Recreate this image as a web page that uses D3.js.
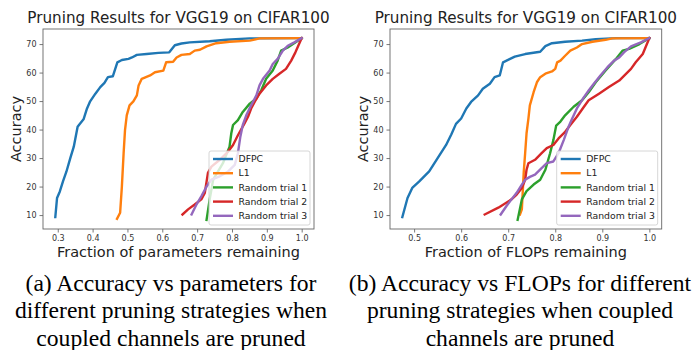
<!DOCTYPE html>
<html>
<head>
<meta charset="utf-8">
<script src="https://cdn.jsdelivr.net/npm/d3@7"></script>
<style>
  body { margin: 0; background: white; }
  svg { display: block; }
</style>
</head>
<body>
<div id="fig"></div>
<script>
"use strict"

const seriesNames = ["DFPC", "L1", "Random trial 1", "Random trial 2", "Random trial 3"]
const seriesColors = ["#1f77b4", "#ff7f0e", "#2ca02c", "#d62728", "#9467bd"]

// accuracy vs fraction of parameters remaining
const paramDFPC = [[0.293,9.3],[0.298,16],[0.306,18.3],[0.315,21.8],[0.325,25.3],[0.336,30],[0.346,34],[0.357,41],[0.362,41.8],[0.374,43.6],[0.384,47.4],[0.393,49.9],[0.408,52.6],[0.422,54.9],[0.434,56.4],[0.444,58.4],[0.458,58.7],[0.471,63.6],[0.484,64.4],[0.503,64.8],[0.513,65.3],[0.527,66.2],[0.555,66.5],[0.589,66.9],[0.620,67.1],[0.636,69.6],[0.655,70.2],[0.679,70.6],[0.736,71.0],[0.784,71.5],[0.851,72],[1.0,72.1]]
const paramL1 = [[0.470,8.7],[0.479,10.8],[0.484,20],[0.489,31.7],[0.493,39.8],[0.498,45],[0.506,48.5],[0.517,49.9],[0.527,52],[0.532,55.5],[0.541,57.8],[0.553,58.4],[0.565,59],[0.579,60.1],[0.603,60.7],[0.611,63.6],[0.631,63.8],[0.641,65.3],[0.655,66.2],[0.679,66.5],[0.693,67.7],[0.708,68],[0.727,69.2],[0.755,70.3],[0.793,70.8],[0.851,71.2],[0.879,72],[1.0,72.1]]
const paramRand1 = [[0.727,8.3],[0.736,15.5],[0.746,22.4],[0.774,28.2],[0.793,34],[0.798,38.7],[0.803,41.6],[0.817,43.3],[0.831,46.2],[0.851,49.1],[0.870,50.9],[0.884,53.8],[0.898,57.8],[0.917,60.7],[0.931,64.2],[0.941,67.7],[0.960,68.8],[1.0,72.1]]
const paramRand2 = [[0.658,10.2],[0.674,12],[0.693,13.7],[0.712,15.5],[0.722,17.8],[0.731,24.8],[0.741,27],[0.765,29.4],[0.789,32.3],[0.803,34.6],[0.817,38],[0.836,42.2],[0.846,44.5],[0.855,47.4],[0.865,49.7],[0.879,52.6],[0.898,55.5],[0.917,57.8],[0.936,59.6],[0.955,61.3],[0.970,64.2],[0.982,67.1],[1.0,72.1]]
const paramRand3 = [[0.684,10.2],[0.698,13.7],[0.712,16.6],[0.727,20],[0.741,22.4],[0.765,23.6],[0.789,25.3],[0.808,27.6],[0.817,31.7],[0.824,37.5],[0.831,41.6],[0.841,45],[0.855,48.5],[0.870,52],[0.879,55.5],[0.889,57.8],[0.908,60.7],[0.917,63],[0.931,64.8],[0.946,67.7],[0.960,69.4],[0.979,70.6],[1.0,72.1]]

// accuracy vs fraction of FLOPs remaining
const flopDFPC = [[0.475,9.3],[0.486,16],[0.496,19.5],[0.511,21.8],[0.532,25.3],[0.550,30],[0.568,34.6],[0.579,38.3],[0.589,42],[0.600,43.9],[0.611,47.4],[0.621,49.7],[0.636,52],[0.646,54.3],[0.661,56.1],[0.671,58.4],[0.682,59],[0.689,63.6],[0.704,64.8],[0.714,65.6],[0.736,66.5],[0.768,67.3],[0.779,69.3],[0.793,70.3],[0.821,70.8],[0.857,71.2],[0.886,71.7],[0.929,72.1],[1.0,72.1]]
const flopL1 = [[0.725,10.2],[0.729,12],[0.733,25],[0.736,31.7],[0.739,38.7],[0.743,43.9],[0.746,48.5],[0.754,53.1],[0.761,56.6],[0.768,58.4],[0.779,59.6],[0.793,60.4],[0.800,61.3],[0.804,63.6],[0.811,64.2],[0.821,65.9],[0.832,67.7],[0.846,68.8],[0.857,70],[0.879,70.8],[0.907,71.5],[0.921,72],[1.0,72.1]]
const flopRand1 = [[0.720,8.3],[0.729,15.5],[0.739,18.4],[0.754,20.7],[0.768,22.4],[0.779,25.9],[0.789,31.7],[0.796,36.3],[0.802,41.4],[0.811,42.8],[0.821,45],[0.839,48],[0.857,50.3],[0.871,53.1],[0.886,56.6],[0.907,60.7],[0.929,64.8],[0.943,67.7],[0.957,68.3],[0.979,70],[1.0,72.1]]
const flopRand2 = [[0.650,10.2],[0.679,12.6],[0.707,15.5],[0.718,17.2],[0.729,19.5],[0.736,22.4],[0.739,25.9],[0.743,28.2],[0.757,29.4],[0.771,31.7],[0.782,33.5],[0.796,34.6],[0.807,36.9],[0.820,39],[0.832,41.6],[0.846,44.5],[0.861,48],[0.871,50.3],[0.893,52.6],[0.914,54.9],[0.936,57.2],[0.961,61.3],[0.971,63.6],[0.986,66.5],[1.0,72.1]]
const flopRand3 = [[0.684,10.2],[0.696,13.1],[0.707,15.5],[0.718,17.8],[0.729,20.7],[0.736,22.4],[0.746,23.4],[0.757,24.2],[0.771,26.5],[0.782,28.2],[0.796,28.8],[0.807,31.7],[0.818,36.3],[0.829,41.3],[0.836,43.9],[0.846,47.4],[0.861,51.4],[0.871,53.7],[0.882,56.1],[0.896,59],[0.911,61.9],[0.925,64.2],[0.936,65.3],[0.946,67.1],[0.961,69.2],[0.982,70.6],[1.0,72.1]]

const xTicksParam = [0.3, 0.4, 0.5, 0.6, 0.7, 0.8, 0.9, 1.0]
const xTicksFlop = [0.5, 0.6, 0.7, 0.8, 0.9, 1.0]
const yTicks = [10, 20, 30, 40, 50, 60, 70]

const chartTitle = "Pruning Results for VGG19 on CIFAR100"
const yLabel = "Accuracy"
const xLabelParam = "Fraction of parameters remaining"
const xLabelFlop = "Fraction of FLOPs remaining"
const captionA = ["(a) Accuracy vs parameters for", "different pruning strategies when", "coupled channels are pruned"]
const captionB = ["(b) Accuracy vs FLOPs for different", "pruning strategies when coupled", "channels are pruned"]

const width = 695, height = 350

const svg = d3.select("#fig").append("svg")
  .attr("width", width)
  .attr("height", height)
  .attr("viewBox", `0,0,${width},${height}`)

// matplotlib style 5% padding around the data
function padded(ext) {
  const m = (ext[1] - ext[0]) * 0.05
  return [ext[0] - m, ext[1] + m]
}

function drawPanel(opt) {
  const all = opt.series.flat()
  const x = d3.scaleLinear().domain(padded(d3.extent(all, d => d[0]))).range([opt.left, opt.right])
  const y = d3.scaleLinear().domain(padded(d3.extent(all, d => d[1]))).range([opt.bottom, opt.top])

  const g = svg.append("g")

  const ax = g.append("g")
    .attr("transform", `translate(0 ${opt.bottom})`)
    .call(d3.axisBottom(x).tickValues(opt.xTicks).tickFormat(d3.format(".1f")).tickSize(3.5).tickPadding(3))
  const ay = g.append("g")
    .attr("transform", `translate(${opt.left} 0)`)
    .call(d3.axisLeft(y).tickValues(yTicks).tickSize(3.5).tickPadding(3))

  for (const a of [ax, ay]) {
    a.select(".domain").remove()
    a.selectAll("line").attr("stroke", "#555").attr("stroke-width", 0.8)
    a.selectAll("text").attr("fill", "#333").style("font-family", "DejaVu Sans").style("font-size", "8px")
  }

  const line = d3.line().x(d => x(d[0])).y(d => y(d[1]))

  g.append("g").selectAll("path")
    .data(opt.series)
    .join("path")
    .attr("d", line)
    .attr("fill", "none")
    .attr("stroke", (d, i) => seriesColors[i])
    .attr("stroke-width", 2.4)
    .attr("stroke-linejoin", "round")
    .attr("stroke-linecap", "square")

  g.append("rect")
    .attr("x", opt.left).attr("y", opt.top)
    .attr("width", opt.right - opt.left).attr("height", opt.bottom - opt.top)
    .attr("fill", "none").attr("stroke", "#666").attr("stroke-width", 0.9)

  // legend, lower right
  const lg = g.append("g").attr("transform", `translate(${opt.right - 105} ${opt.bottom - 78})`)
  lg.append("rect")
    .attr("width", 101).attr("height", 74).attr("rx", 2)
    .attr("fill", "white").attr("fill-opacity", 0.8)
    .attr("stroke", "#ccc").attr("stroke-width", 0.8)
  const items = lg.selectAll("g").data(seriesNames).join("g")
    .attr("transform", (d, i) => `translate(0 ${8 + i * 14.2})`)
  items.append("line")
    .attr("x1", 4).attr("x2", 24)
    .attr("stroke", (d, i) => seriesColors[i]).attr("stroke-width", 2.4)
  items.append("text")
    .text(d => d)
    .attr("x", 29.5).attr("dy", "0.35em")
    .style("font-family", "DejaVu Sans").style("font-size", "9.3px").attr("fill", "#222")

  const cx = (opt.left + opt.right) / 2
  g.append("text").text(chartTitle)
    .attr("x", cx).attr("y", 22.5)
    .attr("text-anchor", "middle")
    .style("font-family", "DejaVu Sans").style("font-size", "15.2px").attr("fill", "#222")

  g.append("text").text(opt.xLabel)
    .attr("x", cx).attr("y", 257)
    .attr("text-anchor", "middle")
    .style("font-family", "DejaVu Sans").style("font-size", "14.5px").attr("fill", "#222")

  g.append("text").text(yLabel)
    .attr("transform", `translate(${opt.left - 22} ${(opt.top + opt.bottom) / 2}) rotate(-90)`)
    .attr("text-anchor", "middle")
    .style("font-family", "DejaVu Sans").style("font-size", "14.5px").attr("fill", "#222")

  // caption, slightly widened as in the reference
  g.append("g").selectAll("text")
    .data(opt.caption)
    .join("text")
    .text(d => d)
    .attr("transform", (d, i) => `translate(${opt.capX} ${291 + i * 27.3}) scale(1.05 1)`)
    .attr("text-anchor", "middle")
    .style("font-family", "Liberation Serif").style("font-size", "22.5px").attr("fill", "#000")
}

drawPanel({
  series: [paramDFPC, paramL1, paramRand1, paramRand2, paramRand3],
  xTicks: xTicksParam, xLabel: xLabelParam, caption: captionA, capX: 171,
  left: 43, right: 314, top: 29, bottom: 229
})

drawPanel({
  series: [flopDFPC, flopL1, flopRand1, flopRand2, flopRand3],
  xTicks: xTicksFlop, xLabel: xLabelFlop, caption: captionB, capX: 520,
  left: 390, right: 661.7, top: 29, bottom: 229
})
</script>
</body>
</html>
